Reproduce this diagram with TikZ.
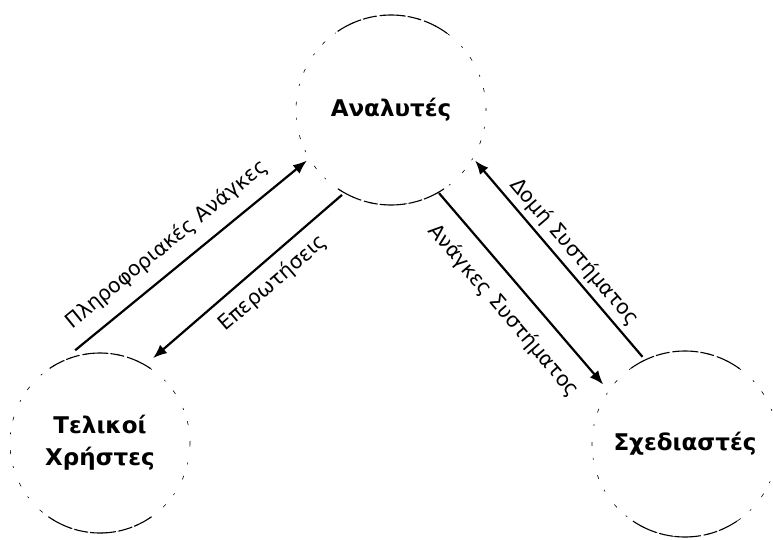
\documentclass[tikz,border=0pt]{standalone}
\usepackage{fontspec}
\setmainfont{DejaVu Sans}
\usetikzlibrary{arrows.meta,calc}
\begin{document}
\begin{tikzpicture}[x=1pt,y=1pt,
  role/.style={circle, minimum size=#1, inner sep=0pt, align=center,
    font=\bfseries\fontsize{23}{32}\selectfont,
    draw, line width=0.6pt, dash pattern=on 2pt off 16pt on 4pt off 12pt},
  rim/.style={line width=1.1pt, dash pattern=on 26pt off 3pt on 14pt off 2pt},
  flow/.style={line width=2.2pt, -{Latex[length=14pt,width=11pt]}},
  flowback/.style={line width=2.2pt, {Latex[length=14pt,width=11pt]}-},
  flowlabel/.style={sloped, inner sep=0pt, font=\fontsize{20.5}{22}\selectfont}]
\useasboundingbox (0,0) rectangle (773,-540);

% the three roles
\node[role=190pt] (ana) at (391,-110) {Αναλυτές};
\node[role=180pt] (tel) at (100,-443) {Τελικοί\\Χρήστες};
\node[role=186pt] (sch) at (685,-444) {Σχεδιαστές};

% heavier arcs on top and bottom of each circle
\draw[rim] ($(ana.center)+(54:95)$) arc[start angle=54, end angle=126, radius=95];
\draw[rim] ($(ana.center)+(236:95)$) arc[start angle=236, end angle=304, radius=95];
\draw[rim] ($(tel.center)+(56:90)$) arc[start angle=56, end angle=124, radius=90];
\draw[rim] ($(tel.center)+(235:90)$) arc[start angle=235, end angle=305, radius=90];
\draw[rim] ($(sch.center)+(54:93)$) arc[start angle=54, end angle=126, radius=93];
\draw[rim] ($(sch.center)+(236:93)$) arc[start angle=236, end angle=304, radius=93];

% flows between the roles
\draw[flow] ($(tel.center)+(105:96)$) -- ($(ana.center)+(211:98)$)
  node[flowlabel, pos=0.46, above=12.5pt] {Πληροφοριακές Ανάγκες};
\draw[flowback] ($(tel.center)+(58:100)$) -- ($(ana.center)+(240:98)$)
  node[flowlabel, pos=0.56, below=10pt] {Επερωτήσεις};
\draw[flow] ($(ana.center)+(300:96)$) -- ($(sch.center)+(144:101)$)
  node[flowlabel, pos=0.52, below=16pt] {Ανάγκες Συστήματος};
\draw[flowback] ($(ana.center)+(329:98)$) -- ($(sch.center)+(116:97)$)
  node[flowlabel, pos=0.52, above=5pt] {Δομή Συστήματος};
\end{tikzpicture}
\end{document}
